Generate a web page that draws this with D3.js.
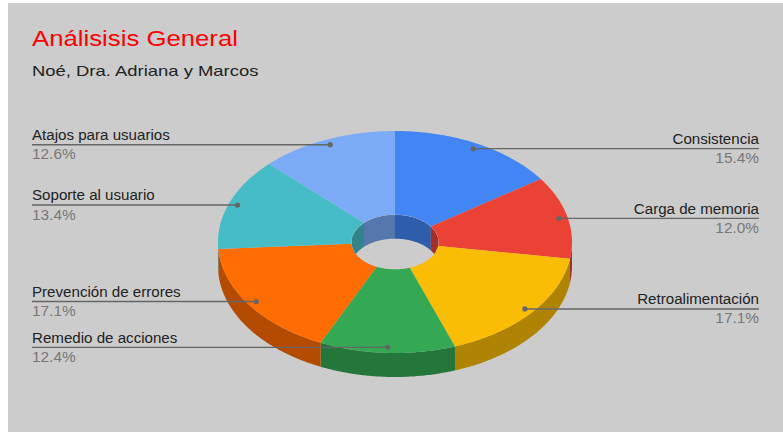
<!DOCTYPE html>
<html>
<head>
<meta charset="utf-8">
<script src="https://cdn.jsdelivr.net/npm/d3@7"></script>
<style>
  html, body { margin: 0; padding: 0; background: #ffffff; }
  svg { display: block; }
  text { font-family: Arial, "Liberation Sans", sans-serif; }
</style>
</head>
<body>
<svg id="chart" width="783" height="432"></svg>
<script>
// Categories, in drawing order (clockwise from 12 o'clock)
const categories = [
  "Consistencia",
  "Carga de memoria",
  "Retroalimentación",
  "Remedio de acciones",
  "Prevención de errores",
  "Soporte al usuario",
  "Atajos para usuarios"
];
// Share of each category (percent)
const values = [15.4, 12.0, 17.1, 12.4, 17.1, 13.4, 12.6];
const colors = ["#4285f4", "#ea4335", "#fbbc04", "#34a853", "#ff6d01", "#46bdc6", "#7baaf7"];

const title = "Análisisis General";
const subtitle = "Noé, Dra. Adriana y Marcos";

const W = 783, H = 432;
const svg = d3.select("#chart");

// Background panel
svg.append("rect").attr("x", 0).attr("y", 0).attr("width", W).attr("height", H).attr("fill", "#ffffff");
svg.append("rect").attr("x", 8).attr("y", 3).attr("width", W - 8).attr("height", H - 3).attr("fill", "#cccccc");

// Titles
svg.append("text")
  .attr("transform", "translate(32,45.5) scale(1.17,1)")
  .attr("font-size", 22).attr("fill", "#ff0000")
  .text(title);
svg.append("text")
  .attr("transform", "translate(32,76.3) scale(1.23,1)")
  .attr("font-size", 15).attr("fill", "#222222")
  .text(subtitle);

// 3D donut geometry
const cx = 395, cy = 242, rx = 177, ry = 111, depth = 24, holeRatio = 0.246;
const irx = rx * holeRatio, iry = ry * holeRatio;

const pie = d3.pie().sort(null).value(d => d.value).startAngle(0).endAngle(2 * Math.PI);
const data = categories.map((c, i) => ({ name: c, value: values[i], color: colors[i] }));
const arcs = pie(data);

const shade = c => { const k = d3.rgb(c); return d3.rgb(k.r * 0.7, k.g * 0.7, k.b * 0.7).formatHex(); };

// Points along an elliptical arc (angle 0 = top, clockwise)
function arcPts(a0, a1, erx, ery, ecy) {
  const n = Math.max(2, Math.ceil(Math.abs(a1 - a0) / 0.01));
  const pts = [];
  for (let i = 0; i <= n; i++) {
    const a = a0 + (a1 - a0) * i / n;
    pts.push([cx + erx * Math.sin(a), ecy - ery * Math.cos(a)]);
  }
  return pts;
}
const line = d3.line();
function band(a0, a1, erx, ery, yTop, yBot) {
  const top = arcPts(a0, a1, erx, ery, yTop);
  const bot = arcPts(a1, a0, erx, ery, yBot);
  return line(top.concat(bot)) + "Z";
}

const g = svg.append("g");

// Outer side wall (front half only)
arcs.forEach(d => {
  const s = Math.max(d.startAngle, Math.PI / 2), e = Math.min(d.endAngle, 3 * Math.PI / 2);
  if (e > s) {
    g.append("path").attr("d", band(s, e, rx, ry, cy, cy + depth)).attr("fill", shade(d.data.color));
  }
});

// Top surface
arcs.forEach(d => {
  const outer = arcPts(d.startAngle, d.endAngle, rx, ry, cy);
  const inner = arcPts(d.endAngle, d.startAngle, irx, iry, cy);
  g.append("path").attr("d", line(outer.concat(inner)) + "Z")
    .attr("fill", d.data.color);
});

// Inner wall of the hole (back half), clipped to the hole opening
svg.append("clipPath").attr("id", "hole")
  .append("ellipse").attr("cx", cx).attr("cy", cy).attr("rx", irx).attr("ry", iry);
const hole = g.append("g").attr("clip-path", "url(#hole)");
hole.append("ellipse").attr("cx", cx).attr("cy", cy).attr("rx", irx).attr("ry", iry).attr("fill", "#cccccc");
const backRanges = [[0, Math.PI / 2], [3 * Math.PI / 2, 2 * Math.PI]];
arcs.forEach(d => {
  backRanges.forEach(([r0, r1]) => {
    const s = Math.max(d.startAngle, r0), e = Math.min(d.endAngle, r1);
    if (e > s) {
      hole.append("path").attr("d", band(s, e, irx, iry, cy, cy + depth)).attr("fill", shade(d.data.color));
    }
  });
});

// Labels with leader lines
const leftX = 32, rightX = 759, dotR = 0.95;
const labels = svg.append("g");
arcs.forEach(d => {
  const mid = (d.startAngle + d.endAngle) / 2;
  const px = cx + rx * dotR * Math.sin(mid);
  const py = cy - ry * dotR * Math.cos(mid);
  const left = mid > Math.PI;
  const x0 = left ? leftX : rightX;
  labels.append("line")
    .attr("x1", x0).attr("y1", py).attr("x2", px).attr("y2", py)
    .attr("stroke", "#666666").attr("stroke-width", 1.4);
  labels.append("circle").attr("cx", px).attr("cy", py).attr("r", 2.6).attr("fill", "#666666");
  labels.append("text")
    .attr("transform", `translate(${x0},${py - 4.8}) scale(1.08,1)`)
    .attr("text-anchor", left ? "start" : "end")
    .attr("font-size", 14).attr("fill", "#222222")
    .text(d.data.name);
  labels.append("text")
    .attr("transform", `translate(${x0},${py + 14.5}) scale(1.1,1)`)
    .attr("text-anchor", left ? "start" : "end")
    .attr("font-size", 14).attr("fill", "#777777")
    .text(d.data.value.toFixed(1) + "%");
});
</script>
</body>
</html>
